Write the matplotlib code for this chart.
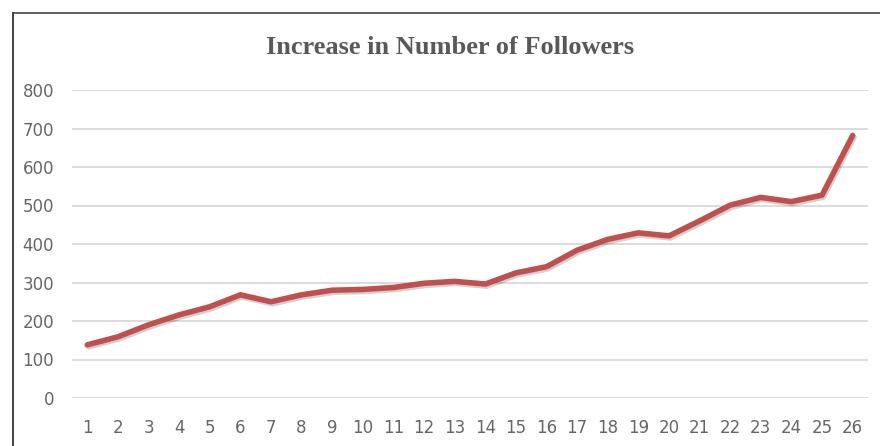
import matplotlib.pyplot as plt
import matplotlib.patheffects as pe
from matplotlib.lines import Line2D

# data
periods = list(range(1, 27))
followers = [138, 159, 190, 216, 237, 268, 250, 268, 280, 282, 287, 298, 303, 296,
             325, 341, 384, 412, 429, 421, 460, 501, 521, 510, 527, 682]
yticks = [0, 100, 200, 300, 400, 500, 600, 700, 800]

W, H = 880, 446
fig = plt.figure(figsize=(W / 100, H / 100), dpi=100)
ax = fig.add_axes([72 / W, 1 - 398 / H, (868 - 72) / W, (398 - 90) / H])

# chart border (cropped at right/bottom in the reference)
fig.add_artist(Line2D([12.5 / W, 12.5 / W], [0, 1 - 13 / H], color="#222222", lw=1.2))
fig.add_artist(Line2D([12.5 / W, 1], [1 - 13 / H, 1 - 13 / H], color="#444444", lw=1.2))

ax.plot(periods, followers, color="#C0504D", lw=4, solid_capstyle="round",
        solid_joinstyle="round",
        path_effects=[pe.SimpleLineShadow(offset=(1, -1.5), alpha=0.18), pe.Normal()])

ax.set_xlim(0.5, 26.5)
ax.set_ylim(0, 800)
ax.set_xticks(periods)
ax.set_yticks(yticks)
ax.grid(axis="y", color="#D9D9D9", lw=1.3)
ax.set_axisbelow(True)
for s in ax.spines.values():
    s.set_visible(False)
ax.tick_params(length=0, colors="#666666", labelsize=12)
ax.tick_params(axis="y", pad=13)
ax.tick_params(axis="x", pad=15)

fig.text(450 / W, 1 - 47 / H, "Increase in Number of Followers", ha="center", va="center",
         fontsize=19, fontweight="bold", family="Liberation Serif", color="#595959")

fig.savefig("out.png", dpi=100)
